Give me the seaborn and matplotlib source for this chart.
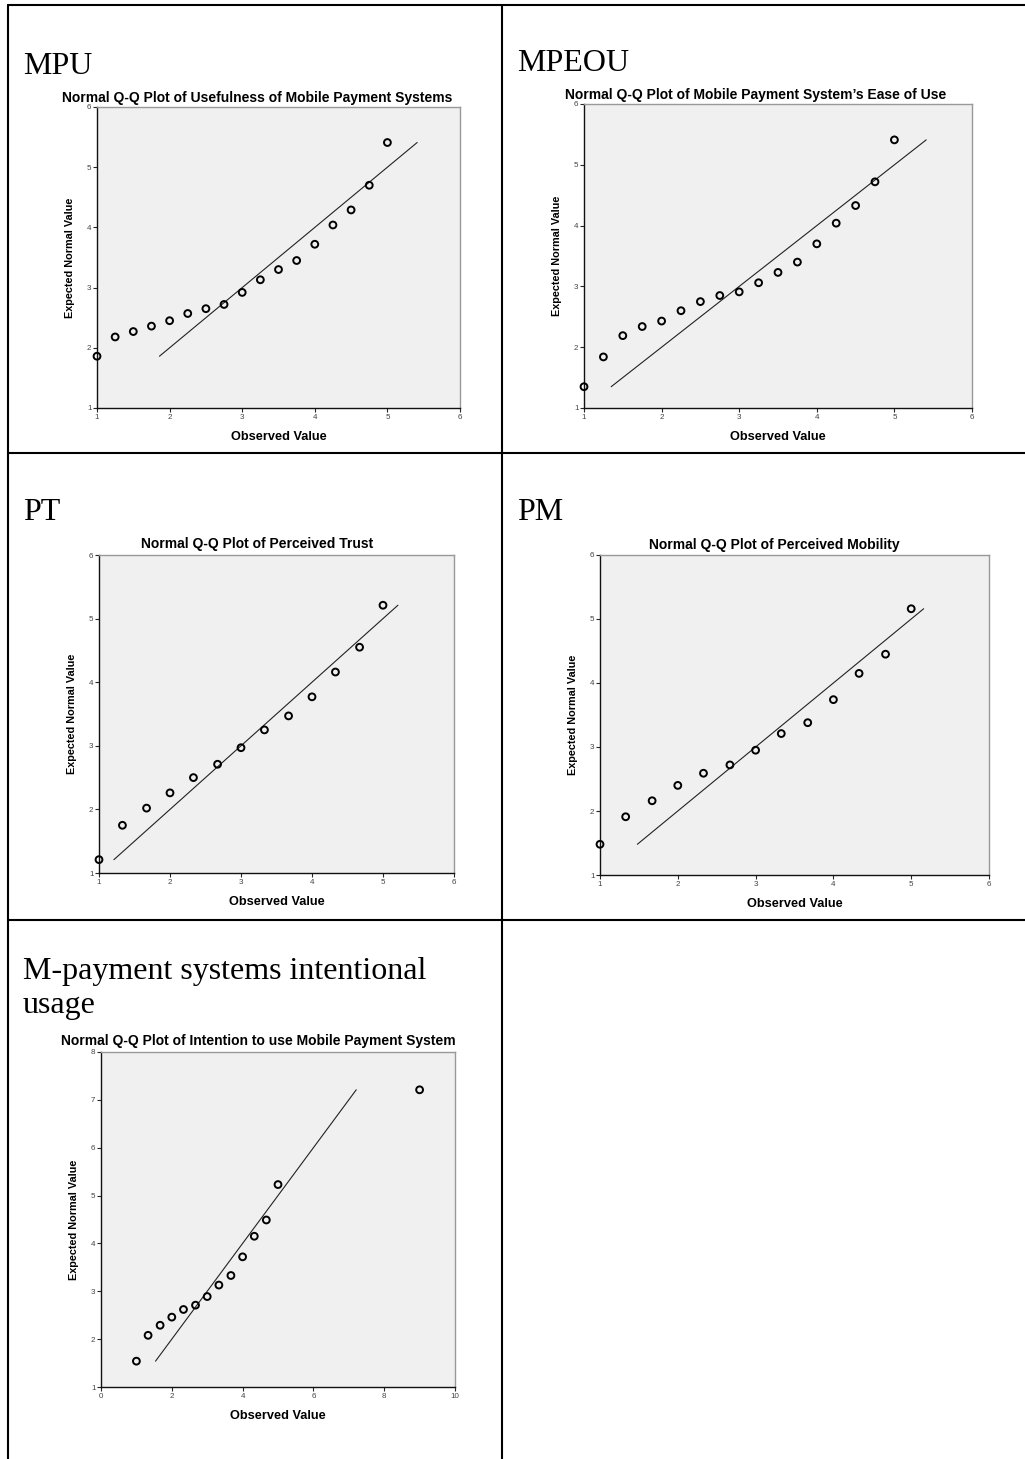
import matplotlib
matplotlib.use("Agg")
import matplotlib.pyplot as plt
import seaborn as sns
import pandas as pd

# Values
mpu_obs = [1, 1.25, 1.5, 1.75, 2, 2.25, 2.5, 2.75, 3, 3.25, 3.5, 3.75, 4, 4.25, 4.5, 4.75, 5]
mpu_exp = [1.86, 2.18, 2.27, 2.36, 2.45, 2.57, 2.65, 2.72, 2.92, 3.13, 3.30, 3.45, 3.72, 4.04, 4.29, 4.70, 5.41]

mpeou_obs = [1, 1.25, 1.5, 1.75, 2, 2.25, 2.5, 2.75, 3, 3.25, 3.5, 3.75, 4, 4.25, 4.5, 4.75, 5]
mpeou_exp = [1.35, 1.84, 2.19, 2.34, 2.43, 2.60, 2.75, 2.85, 2.91, 3.06, 3.23, 3.40, 3.70, 4.04, 4.33, 4.72, 5.41]

pt_obs = [1, 1.33, 1.67, 2, 2.33, 2.67, 3, 3.33, 3.67, 4, 4.33, 4.67, 5]
pt_exp = [1.21, 1.75, 2.02, 2.26, 2.50, 2.71, 2.97, 3.25, 3.47, 3.77, 4.16, 4.55, 5.21]

pm_obs = [1, 1.33, 1.67, 2, 2.33, 2.67, 3, 3.33, 3.67, 4, 4.33, 4.67, 5]
pm_exp = [1.48, 1.91, 2.16, 2.40, 2.59, 2.72, 2.95, 3.21, 3.38, 3.74, 4.15, 4.45, 5.16]

iu_obs = [1, 1.33, 1.67, 2, 2.33, 2.67, 3, 3.33, 3.67, 4, 4.33, 4.67, 5, 9]
iu_exp = [1.54, 2.08, 2.29, 2.46, 2.62, 2.71, 2.89, 3.13, 3.33, 3.72, 4.15, 4.49, 5.23, 7.21]

labels = [["MPU"], ["MPEOU"], ["PT"], ["PM"], ["M-payment systems intentional", "usage"]]
titles = [
    "Normal Q-Q Plot of Usefulness of Mobile Payment Systems",
    "Normal Q-Q Plot of Mobile Payment System\u2019s Ease of Use",
    "Normal Q-Q Plot of Perceived Trust",
    "Normal Q-Q Plot of Perceived Mobility",
    "Normal Q-Q Plot of Intention to use Mobile Payment System",
]
x_ticks = [[1, 2, 3, 4, 5, 6]] * 4 + [[0, 2, 4, 6, 8, 10]]
y_ticks = [[1, 2, 3, 4, 5, 6]] * 4 + [[1, 2, 3, 4, 5, 6, 7, 8]]

series = [(mpu_obs, mpu_exp), (mpeou_obs, mpeou_exp), (pt_obs, pt_exp),
          (pm_obs, pm_exp), (iu_obs, iu_exp)]

sns.set_style("white")
plt.rcParams["font.family"] = ["Liberation Sans", "DejaVu Sans"]
plt.rcParams["text.color"] = "black"
plt.rcParams["axes.labelcolor"] = "black"

W, H = 1025, 1459
fig = plt.figure(figsize=(W / 100, H / 100), dpi=100)

# pixel boxes: left, top, right, bottom
boxes = [(97, 107, 460, 408), (584, 104, 972, 408), (99, 555, 454, 873),
         (600, 555, 989, 875), (101, 1052, 455, 1387)]
title_pos = [(257, 98), (756, 95), (257, 544), (774, 545), (258, 1041)]
label_pos = [(23, 74), (517, 71), (23, 520), (517, 520), (23, 979)]

for i, (obs, exp) in enumerate(series):
    l, t, r, b = boxes[i]
    ax = fig.add_axes([l / W, 1 - b / H, (r - l) / W, (b - t) / H])
    ax.set_facecolor("#F0F0F0")
    df = pd.DataFrame({"Observed": obs, "Expected": exp})
    sns.scatterplot(data=df, x="Observed", y="Expected", ax=ax, marker="o",
                    s=24, facecolor="none", edgecolor="black", linewidth=1.4,
                    clip_on=False, zorder=3)
    # reference line y = x across the range of expected values
    ref = pd.DataFrame({"x": [min(exp), max(exp)], "y": [min(exp), max(exp)]})
    sns.lineplot(data=ref, x="x", y="y", ax=ax, color="#222222", linewidth=0.8)

    xt, yt = x_ticks[i], y_ticks[i]
    ax.set_xlim(xt[0], xt[-1])
    ax.set_ylim(yt[0], yt[-1])
    ax.set_xticks(xt)
    ax.set_yticks(yt)
    ax.tick_params(axis="both", direction="out", length=3, width=0.8,
                   labelsize=5.8, labelcolor="#444444", pad=1,
                   left=True, bottom=True)
    for side in ["left", "bottom"]:
        ax.spines[side].set_color("#111111")
        ax.spines[side].set_linewidth(1.0)
    for side in ["top", "right"]:
        ax.spines[side].set_color("#999999")
        ax.spines[side].set_linewidth(1.0)

    ax.set_xlabel("Observed Value", fontsize=9.2, fontweight="bold")
    ax.set_ylabel("Expected Normal Value", fontsize=7.8, fontweight="bold")
    ax.xaxis.set_label_coords(0.5, -29 / (b - t))
    ax.xaxis.label.set_va("center")
    ax.yaxis.set_label_coords(-27 / (r - l), 0.5)
    ax.yaxis.label.set_va("center")

    tx, ty = title_pos[i]
    fig.text(tx / W, 1 - ty / H, titles[i], ha="center", va="center",
             fontsize=10, fontweight="bold")
    lx, ly = label_pos[i]
    for k, line in enumerate(labels[i]):
        fig.text(lx / W, 1 - (ly + 34 * k) / H, line, ha="left", va="baseline",
                 fontsize=23, family=["Liberation Serif", "DejaVu Serif"])

# table borders around the cells
tbl = fig.add_axes([0, 0, 1, 1], facecolor="none")
tbl.set_xlim(0, W)
tbl.set_ylim(H, 0)
tbl.axis("off")
for y in [5, 453, 920]:
    tbl.plot([8, W], [y, y], color="black", linewidth=1.5)
for x in [8, 502]:
    tbl.plot([x, x], [5, H], color="black", linewidth=1.5)

fig.savefig("out.png", dpi=100)
